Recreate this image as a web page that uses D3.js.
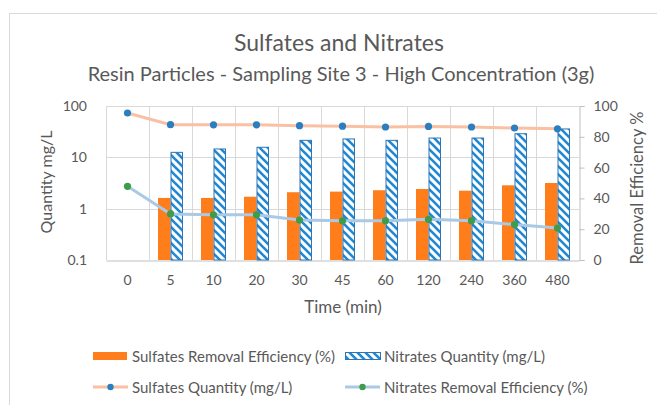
<!DOCTYPE html>
<html>
<head>
<meta charset="utf-8">
<script src="https://cdn.jsdelivr.net/npm/d3@7"></script>
<style>
  body { margin: 0; background: #fff; }
  text { font-family: Lato, "Open Sans", sans-serif; fill: #595959; }
</style>
</head>
<body>
<script>
// categories (minutes)
const times = ["0", "5", "10", "20", "30", "45", "60", "120", "240", "360", "480"];

// bars, right axis (%)
const sulfatesRemoval = [null, 40.3, 40.3, 41.1, 44.0, 44.4, 45.3, 46.1, 45.0, 48.5, 50.0];
const nitratesRemoval = [null, 69.9, 72.1, 73.2, 77.7, 78.6, 77.7, 79.2, 79.2, 82.0, 85.1];

// lines, left log axis (mg/L)
const sulfatesQty = [73, 43.2, 43, 43, 41.3, 40.5, 39, 40, 39, 37.3, 36];
const nitratesQty = [2.73, 0.79, 0.76, 0.76, 0.6, 0.58, 0.58, 0.62, 0.58, 0.49, 0.42];

const leftTicks = [0.1, 1, 10, 100];
const rightTicks = [0, 20, 40, 60, 80, 100];

const legendItems = [
  { label: "Sulfates Removal Efficiency (%)", type: "bar", fill: "#ff7d1a" },
  { label: "Nitrates Quantity (mg/L)", type: "hatch" },
  { label: "Sulfates Quantity (mg/L)", type: "line", line: "#f9c0a3", dot: "#2b7fc1" },
  { label: "Nitrates Removal Efficiency (%)", type: "line", line: "#a9c9e6", dot: "#3f9c4c" }
];

const W = 657, H = 405;
const plot = { left: 106, right: 579, top: 106, bottom: 260 };

const svg = d3.select("body").append("svg").attr("width", W).attr("height", H);

// chart frame
svg.append("rect")
  .attr("x", 9.5).attr("y", 13.5).attr("width", W).attr("height", H)
  .attr("fill", "none").attr("stroke", "#d9d9d9");

const defs = svg.append("defs");
const pat = defs.append("pattern")
  .attr("id", "hatch").attr("patternUnits", "userSpaceOnUse")
  .attr("width", 8).attr("height", 8);
pat.append("rect").attr("width", 8).attr("height", 8).attr("fill", "#fff");
pat.append("path")
  .attr("d", "M-2,-2 L10,10 M-2,6 L2,10 M6,-2 L10,2")
  .attr("stroke", "#1f88d2").attr("stroke-width", 2.6);

const x = d3.scaleBand().domain(times).range([plot.left, plot.right]);
const yL = d3.scaleLog().domain([0.1, 100]).range([plot.bottom, plot.top]);
const yR = d3.scaleLinear().domain([0, 100]).range([plot.bottom, plot.top]);

// gridlines
const grid = svg.append("g");
grid.selectAll("line.h")
  .data(leftTicks.slice(1))
  .enter().append("line")
  .attr("x1", plot.left).attr("x2", plot.right)
  .attr("y1", d => Math.round(yL(d)) + 0.5).attr("y2", d => Math.round(yL(d)) + 0.5)
  .attr("stroke", "#d9d9d9");
grid.selectAll("line.v")
  .data(times)
  .enter().append("line")
  .attr("x1", d => Math.round(x(d)) + 0.5).attr("x2", d => Math.round(x(d)) + 0.5)
  .attr("y1", plot.top).attr("y2", plot.bottom)
  .attr("stroke", "#d9d9d9");

// left axis
const axL = svg.append("g")
  .attr("transform", `translate(${plot.left - 16},0)`)
  .call(d3.axisLeft(yL).tickValues(leftTicks).tickFormat(d3.format("")).tickSize(0));
axL.select(".domain").remove();

// right axis
const axR = svg.append("g")
  .attr("transform", `translate(${plot.right + 0.5},0)`)
  .call(d3.axisRight(yR).tickValues(rightTicks).tickSize(5).tickPadding(9));
axR.select(".domain").attr("stroke", "#bfbfbf");
axR.selectAll(".tick line").attr("stroke", "#bfbfbf");

// bottom axis
const axB = svg.append("g")
  .attr("transform", `translate(0,${plot.bottom + 0.5})`)
  .call(d3.axisBottom(x).tickSize(0).tickPadding(15));
axB.select(".domain").attr("stroke", "#bfbfbf");

svg.selectAll(".tick text").style("font-size", "14px").attr("fill", "#595959");

// bars
const bw = 12.5;
const bars = svg.append("g");
bars.selectAll("rect.s")
  .data(times.filter((t, i) => sulfatesRemoval[i] != null))
  .enter().append("rect")
  .attr("x", d => x(d) + x.bandwidth() / 2 - bw)
  .attr("width", bw)
  .attr("y", d => yR(sulfatesRemoval[times.indexOf(d)]))
  .attr("height", d => plot.bottom - yR(sulfatesRemoval[times.indexOf(d)]))
  .attr("fill", "#ff7d1a");
bars.selectAll("rect.n")
  .data(times.filter((t, i) => nitratesRemoval[i] != null))
  .enter().append("rect")
  .attr("x", d => x(d) + x.bandwidth() / 2 + 0.5)
  .attr("width", bw - 1)
  .attr("y", d => yR(nitratesRemoval[times.indexOf(d)]))
  .attr("height", d => plot.bottom - yR(nitratesRemoval[times.indexOf(d)]))
  .attr("fill", "url(#hatch)")
  .attr("stroke", "#2e75b6").attr("stroke-width", 1);

// lines
function drawLine(vals, lineColor, dotColor) {
  const pts = times.map((t, i) => [x(t) + x.bandwidth() / 2, yL(vals[i])]);
  svg.append("path")
    .attr("d", d3.line()(pts))
    .attr("fill", "none").attr("stroke", lineColor).attr("stroke-width", 3);
  svg.append("g").selectAll("circle")
    .data(pts).enter().append("circle")
    .attr("cx", d => d[0]).attr("cy", d => d[1]).attr("r", 3.6)
    .attr("fill", dotColor);
}
drawLine(sulfatesQty, "#f9c0a3", "#2b7fc1");
drawLine(nitratesQty, "#a9c9e6", "#3f9c4c");

// titles
svg.append("text").attr("x", 339).attr("y", 51).attr("text-anchor", "middle")
  .style("font-size", "23px").text("Sulfates and Nitrates");
svg.append("text").attr("x", 341).attr("y", 81).attr("text-anchor", "middle")
  .style("font-size", "20px").text("Resin Particles - Sampling Site 3 - High Concentration (3g)");
svg.append("text").attr("x", 343).attr("y", 313).attr("text-anchor", "middle")
  .style("font-size", "17px").text("Time (min)");
svg.append("text").attr("transform", "translate(52,182) rotate(-90)").attr("text-anchor", "middle")
  .style("font-size", "16px").text("Quantity mg/L");
svg.append("text").attr("transform", "translate(643,188) rotate(-90)").attr("text-anchor", "middle")
  .style("font-size", "16.5px").text("Removal Efficiency %");

// legend
const legPos = [[93, 356], [345, 356], [93, 387], [345, 387]];
const leg = svg.append("g").selectAll("g")
  .data(legendItems).enter().append("g")
  .attr("transform", (d, i) => `translate(${legPos[i][0]},${legPos[i][1]})`);
leg.each(function (d) {
  const g = d3.select(this);
  if (d.type === "bar") {
    g.append("rect").attr("x", 0).attr("y", -4).attr("width", 34).attr("height", 8).attr("fill", d.fill);
  } else if (d.type === "hatch") {
    g.append("rect").attr("x", 0.5).attr("y", -3.5).attr("width", 35).attr("height", 7)
      .attr("fill", "url(#hatch)").attr("stroke", "#2e75b6");
  } else {
    g.append("line").attr("x1", 0).attr("x2", 35).attr("y1", 0).attr("y2", 0)
      .attr("stroke", d.line).attr("stroke-width", 3);
    g.append("circle").attr("cx", 17.5).attr("cy", 0).attr("r", 3.2).attr("fill", d.dot);
  }
  g.append("text").attr("x", 39).attr("y", 5.5).style("font-size", "15px").text(d.label);
});
</script>
</body>
</html>
